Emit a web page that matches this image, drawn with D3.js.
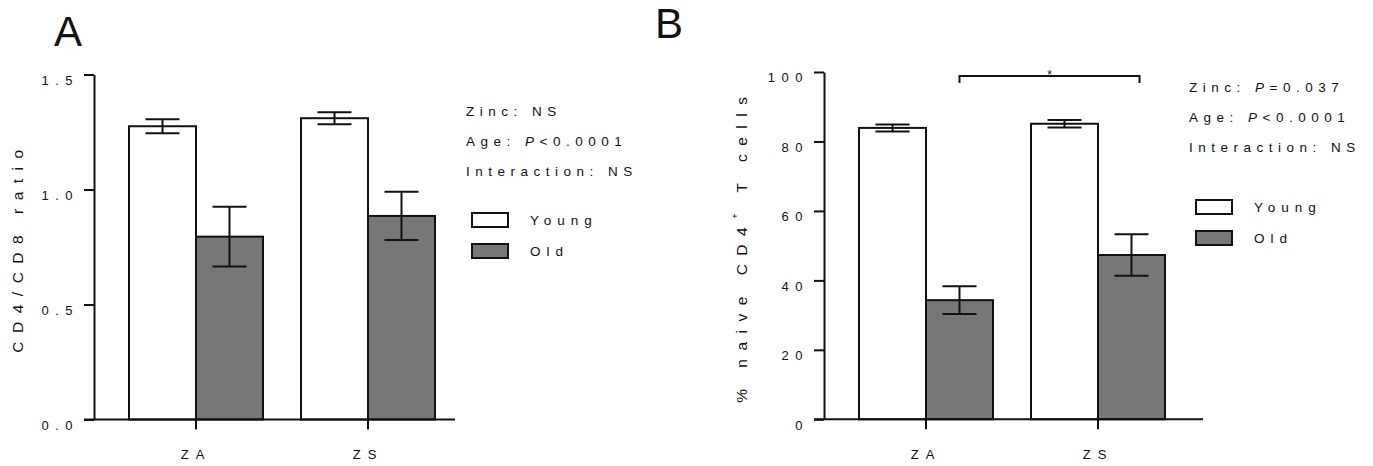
<!DOCTYPE html>
<html>
<head>
<meta charset="utf-8">
<script src="https://cdn.jsdelivr.net/npm/d3@7"></script>
<style>
  body { margin: 0; background: #fff; }
  text { font-family: "Liberation Sans", Arial, sans-serif; fill: #111; }
</style>
</head>
<body>
<div class="viz"></div>
<script>
var categories = ["ZA", "ZS"];
var groups = ["Young", "Old"];

// panel A: CD4/CD8 ratio
var ratioYoung = [1.275, 1.31],
  ratioYoungErr = [0.03, 0.026],
  ratioOld = [0.795, 0.885],
  ratioOldErr = [0.13, 0.105],
  ratioTicks = [0, 0.5, 1.0, 1.5];

// panel B: % naive CD4+ T cells
var naiveYoung = [83.9, 85.1],
  naiveYoungErr = [1.0, 1.1],
  naiveOld = [34.3, 47.3],
  naiveOldErr = [4.0, 6.0],
  naiveTicks = [0, 20, 40, 60, 80, 100];

var statsA = [["Zinc: ", null, "NS"], ["Age: ", "P", "<0.0001"], ["Interaction: ", null, "NS"]];
var statsB = [["Zinc: ", "P", "=0.037"], ["Age: ", "P", "<0.0001"], ["Interaction: ", null, "NS"]];

var grey = "#777777";

var svg = d3
  .select(".viz")
  .append("svg")
  .attr("width", 1373)
  .attr("height", 466);

function panel(opt) {
  var axisX = opt.axisX;
  var y = d3.scaleLinear().domain([0, opt.max]).range([opt.y0, opt.y1]);
  var x0 = d3
    .scaleBand()
    .domain(categories)
    .range([axisX + 16, axisX + 360])
    .paddingInner(0.221)
    .paddingOuter(0.1105);
  var x1 = d3.scaleBand().domain(groups).range([0, x0.bandwidth()]);

  var g = svg.append("g");

  // bars
  var rows = [];
  categories.forEach(function (c, i) {
    rows.push({ cat: c, grp: "Young", v: opt.young[i], e: opt.youngErr[i] });
    rows.push({ cat: c, grp: "Old", v: opt.old[i], e: opt.oldErr[i] });
  });

  g.selectAll("rect.bar")
    .data(rows)
    .enter()
    .append("rect")
    .attr("class", "bar")
    .attr("x", function (d) { return x0(d.cat) + x1(d.grp); })
    .attr("width", x1.bandwidth())
    .attr("y", function (d) { return y(d.v); })
    .attr("height", function (d) { return y(0) - y(d.v); })
    .attr("fill", function (d) { return d.grp == "Young" ? "#fff" : grey; })
    .attr("stroke", "#111")
    .attr("stroke-width", 2);

  // error bars
  var eb = g.selectAll("g.err")
    .data(rows)
    .enter()
    .append("g")
    .attr("class", "err")
    .attr("transform", function (d) {
      return "translate(" + (x0(d.cat) + x1(d.grp) + x1.bandwidth() / 2) + ",0)";
    })
    .attr("stroke", "#111")
    .attr("stroke-width", 2);
  eb.append("line")
    .attr("y1", function (d) { return y(d.v + d.e); })
    .attr("y2", function (d) { return y(d.v - d.e); });
  eb.append("line")
    .attr("x1", -17).attr("x2", 17)
    .attr("y1", function (d) { return y(d.v + d.e); })
    .attr("y2", function (d) { return y(d.v + d.e); });
  eb.append("line")
    .attr("x1", -17).attr("x2", 17)
    .attr("y1", function (d) { return y(d.v - d.e); })
    .attr("y2", function (d) { return y(d.v - d.e); });

  // y axis
  var ya = g.append("g")
    .attr("transform", "translate(" + axisX + ",0)")
    .call(d3.axisLeft(y).tickValues(opt.ticks).tickFormat(opt.fmt).tickSize(10).tickSizeOuter(0).tickPadding(5));
  ya.select(".domain").attr("stroke-width", 2).attr("stroke", "#111");
  ya.selectAll(".tick line").attr("stroke-width", 2).attr("stroke", "#111");
  ya.selectAll(".tick text")
    .attr("dy", "0.75em")
    .style("font-size", "13px")
    .style("letter-spacing", "6.5px")
    .attr("fill", "#111");

  // x axis
  var xa = g.append("g")
    .attr("transform", "translate(0," + y(0) + ")")
    .call(d3.axisBottom(x0).tickSize(10).tickSizeOuter(0).tickPadding(20));
  xa.select(".domain").remove();
  xa.selectAll(".tick line").attr("stroke-width", 2).attr("stroke", "#111");
  xa.selectAll(".tick text")
    .style("font-size", "13px")
    .style("letter-spacing", "7px")
    .attr("fill", "#111");
  g.append("line")
    .attr("x1", axisX - 10)
    .attr("x2", axisX + opt.xEnd)
    .attr("y1", y(0))
    .attr("y2", y(0))
    .attr("stroke", "#111")
    .attr("stroke-width", 2);

  // y label
  var yl = g.append("text")
    .attr("transform", "translate(" + opt.labelX + "," + (y.range()[0] + y.range()[1]) / 2 + ")rotate(-90)")
    .attr("text-anchor", "middle")
    .style("font-size", "15.5px")
    .style("letter-spacing", "8.5px");
  opt.label(yl);

  // panel letter
  g.append("text")
    .attr("x", opt.letterX)
    .attr("y", opt.letterY)
    .style("font-size", "42px")
    .text(opt.letter);

  // stats
  var st = g.selectAll("text.stat")
    .data(opt.stats)
    .enter()
    .append("text")
    .attr("class", "stat")
    .attr("x", opt.statX)
    .attr("y", function (d, i) { return opt.statY + i * 30; })
    .attr("dy", "0.35em")
    .style("font-size", "13.5px")
    .style("letter-spacing", "5.5px");
  st.append("tspan").text(function (d) { return d[0]; });
  st.append("tspan").style("font-style", "italic").text(function (d) { return d[1] || ""; });
  st.append("tspan").text(function (d) { return d[2]; });

  // legend
  var lg = g.selectAll("g.leg")
    .data(groups)
    .enter()
    .append("g")
    .attr("class", "leg")
    .attr("transform", function (d, i) {
      return "translate(" + opt.legX + "," + (opt.legY + i * 31) + ")";
    });
  lg.append("rect")
    .attr("width", 36)
    .attr("height", 14)
    .attr("fill", function (d) { return d == "Young" ? "#fff" : grey; })
    .attr("stroke", "#111")
    .attr("stroke-width", 2);
  lg.append("text")
    .attr("x", 58)
    .attr("y", 7)
    .attr("dy", "0.35em")
    .style("font-size", "13.5px")
    .style("letter-spacing", "6px")
    .text(function (d) { return d; });

  return { x0: x0, x1: x1, y: y, g: g };
}

panel({
  axisX: 94, y0: 419.5, y1: 74.5, max: 1.5, xEnd: 361,
  young: ratioYoung, youngErr: ratioYoungErr, old: ratioOld, oldErr: ratioOldErr,
  ticks: ratioTicks, fmt: d3.format(".1f"),
  labelX: 23,
  label: function (t) { t.text("CD4/CD8 ratio"); },
  letter: "A", letterX: 54, letterY: 46,
  stats: statsA, statX: 466, statY: 111,
  legX: 472, legY: 213
});

var pB = panel({
  axisX: 824, y0: 419.3, y1: 72, max: 100, xEnd: 379,
  young: naiveYoung, youngErr: naiveYoungErr, old: naiveOld, oldErr: naiveOldErr,
  ticks: naiveTicks, fmt: d3.format("d"),
  labelX: 747,
  label: function (t) {
    t.append("tspan").text("% naive CD4");
    t.append("tspan").attr("dy", -9).style("font-size", "9px").text("+");
    t.append("tspan").attr("dy", 9).text(" T cells");
  },
  letter: "B", letterX: 655, letterY: 38,
  stats: statsB, statX: 1189, statY: 87.5,
  legX: 1196, legY: 200
});

// significance bracket between the Old bars
var bx1 = pB.x0("ZA") + pB.x1("Old") + pB.x1.bandwidth() / 2,
  bx2 = pB.x0("ZS") + pB.x1("Old") + pB.x1.bandwidth() / 2 + 8,
  by = 76;
pB.g.append("path")
  .attr("d", "M" + bx1 + "," + (by + 7) + "V" + by + "H" + bx2 + "V" + (by + 7))
  .attr("fill", "none")
  .attr("stroke", "#111")
  .attr("stroke-width", 2);
pB.g.append("text")
  .attr("x", (bx1 + bx2) / 2)
  .attr("y", by + 3)
  .attr("text-anchor", "middle")
  .style("font-size", "12px")
  .text("*");
</script>
</body>
</html>
